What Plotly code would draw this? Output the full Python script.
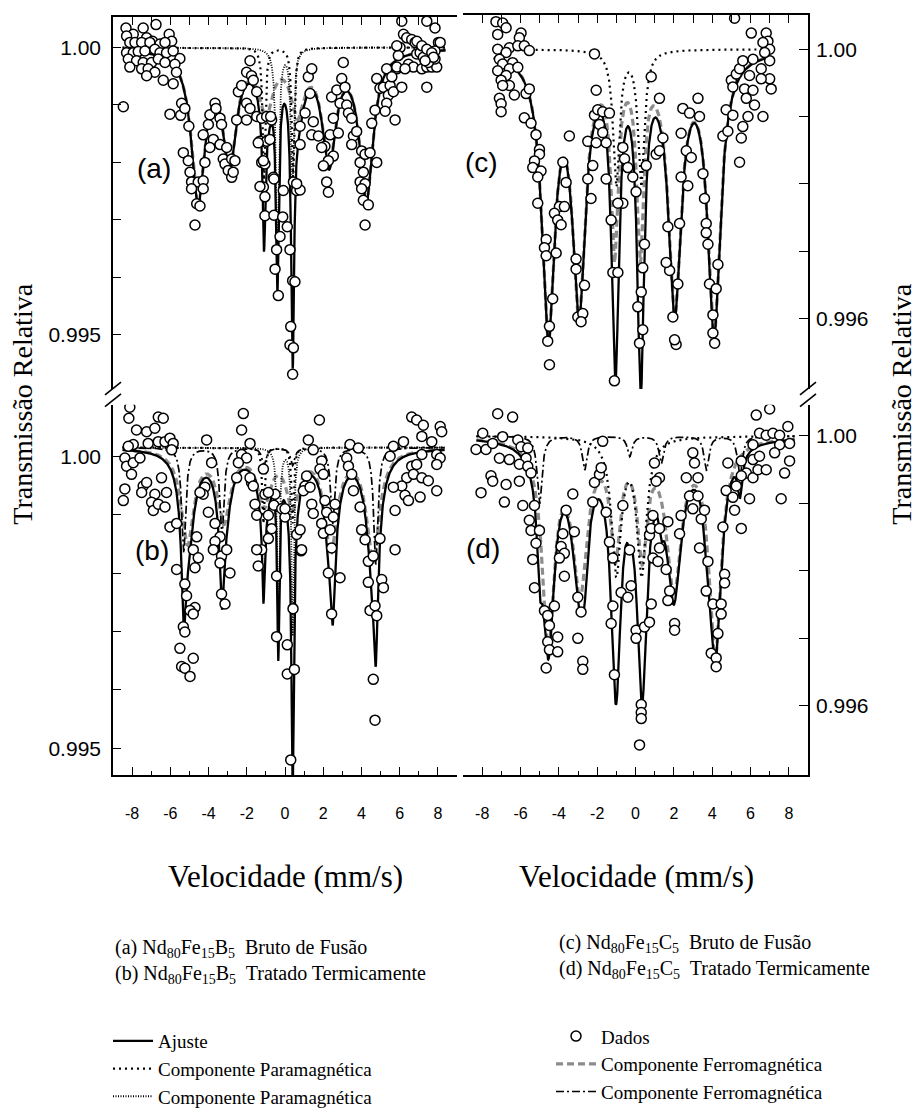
import numpy as np
import plotly.graph_objects as go

W, H = 917, 1116

# ---------------- measured spectra: velocity (mm/s) and relative transmission ----------------
# (a) Nd80Fe15B5, as cast
a_vel = [
    -8.32, -7.42, -6.75, -7.94, -8.29, -7.24, -6.93, -6.54, -6.06, -5.93,
    -8.12, -7.85, -7.50, -7.07, -6.28, -8.29, -7.94, -7.68, -7.33, -6.81,
    -6.54, -6.20, -5.85, -5.50, -8.20, -7.77, -7.42, -6.98, -6.63, -6.28,
    -5.76, -8.12, -7.50, -7.16, -6.81, -6.37, -5.68, -7.24, -5.85, -8.46,
    -5.41, -6.02, -5.46, -5.24, -5.03, -5.32, -5.06, -4.97, -4.89, -4.54,
    -4.28, -4.28, -4.19, -4.62, -4.45, -4.71, -4.89, -4.28, -4.01, -3.93,
    -3.66, -3.61, -3.40, -3.32, -3.75, -3.93, -3.40, -3.05, -3.23, -3.14,
    -2.79, -2.62, -2.97, -2.79, -2.71, -2.53, -2.44, -2.27, -2.01, -1.83,
    -1.75, -1.66, -1.48, -2.01, -1.83, -2.01, -1.48, -1.22, -0.96, -0.70,
    -1.31, -0.96, -0.79, -1.22, -1.05, -0.61, -1.13, -0.75, -1.40, -1.13,
    -0.58, -1.31, -1.05, -1.05, -0.58, -0.09, 0.44, 0.61, -0.12, 0.12,
    -0.26, -0.44, 0.26, -0.52, -0.35, 0.40, 0.30, 0.26, 0.44, 0.40,
    0.79, 0.52, 1.31, 1.22, 1.40, 1.05, 1.48, 1.40, 1.75, 2.09,
    1.92, 2.36, 2.53, 2.27, 2.01, 2.18, 2.27, 2.79, 2.53, 2.44,
    2.71, 2.97, 3.05, 3.14, 2.88, 3.23, 3.32, 3.49, 3.58, 3.49,
    3.75, 4.01, 3.93, 4.19, 4.45, 4.80, 4.10, 3.93, 4.19, 4.01,
    4.10, 4.36, 4.19, 4.54, 4.71, 4.80, 4.97, 5.15, 5.32, 5.50,
    5.41, 5.67, 5.32, 5.24, 5.76, 5.85, 6.11, 6.20, 6.37, 6.63,
    6.81, 6.02, 6.46, 5.93, 6.89, 6.72, 7.07, 7.16, 7.42, 7.68,
    7.94, 7.68, 7.85, 8.03, 7.42, 6.11, 7.42, 7.85, 7.85, 7.24,
    7.50, 0.79, 0.79, 0.61, 6.90, 5.85, 7.16, 7.42, 7.68, 8.12,
    7.77, 7.33, 5.85, 6.28, 5.59,
]
a_trans = [
    1.00034, 1.00034, 1.00040, 1.00023, 1.00020, 1.00017, 1.00011, 1.00006, 1.00023, 1.00011,
    1.00009, 1.00009, 1.00009, 1.00009, 1.00009, 0.99991, 0.99991, 0.99993, 0.99994, 0.99997,
    0.99991, 0.99991, 0.99994, 0.99981, 0.99980, 0.99977, 0.99974, 0.99974, 0.99980, 0.99974,
    0.99971, 0.99966, 0.99963, 0.99963, 0.99957, 0.99943, 0.99957, 0.99951, 0.99937, 0.99897,
    0.99903, 0.99884, 0.99882, 0.99894, 0.99863, 0.99817, 0.99803, 0.99783, 0.99766, 0.99766,
    0.99768, 0.99754, 0.99800, 0.99728, 0.99724, 0.99691, 0.99754, 0.99848, 0.99866, 0.99883,
    0.99903, 0.99894, 0.99877, 0.99866, 0.99840, 0.99826, 0.99831, 0.99826, 0.99806, 0.99797,
    0.99806, 0.99803, 0.99786, 0.99774, 0.99783, 0.99874, 0.99923, 0.99934, 0.99957, 0.99977,
    0.99951, 0.99943, 0.99923, 0.99903, 0.99894, 0.99874, 0.99880, 0.99877, 0.99880, 0.99874,
    0.99837, 0.99837, 0.99840, 0.99800, 0.99797, 0.99774, 0.99757, 0.99880, 0.99834, 0.99803,
    0.99771, 0.99758, 0.99740, 0.99707, 0.99708, 0.99751, 0.99766, 0.99751, 0.99705, 0.99688,
    0.99671, 0.99648, 0.99648, 0.99614, 0.99568, 0.99594, 0.99514, 0.99482, 0.99477, 0.99431,
    0.99752, 0.99592, 0.99920, 0.99949, 0.99963, 0.99886, 0.99871, 0.99848, 0.99846, 0.99828,
    0.99826, 0.99848, 0.99811, 0.99803, 0.99794, 0.99766, 0.99748, 0.99851, 0.99877, 0.99914,
    0.99926, 0.99946, 0.99974, 0.99931, 0.99903, 0.99900, 0.99886, 0.99877, 0.99846, 0.99831,
    0.99854, 0.99820, 0.99800, 0.99814, 0.99817, 0.99800, 0.99783, 0.99766, 0.99763, 0.99754,
    0.99734, 0.99726, 0.99691, 0.99868, 0.99891, 0.99946, 0.99929, 0.99931, 0.99963, 0.99934,
    0.99917, 0.99923, 0.99903, 0.99889, 0.99874, 0.99963, 0.99931, 1.00023, 1.00017, 1.00014,
    1.00009, 1.00000, 0.99971, 0.99986, 0.99989, 0.99966, 0.99991, 0.99963, 0.99966, 0.99966,
    0.99966, 0.99983, 0.99980, 1.00009, 0.99931, 1.00046, 1.00046, 1.00034, 0.99994, 0.99983,
    0.99974, 0.99863, 0.99831, 0.99763, 1.00011, 1.00003, 1.00003, 0.99997, 0.99991, 1.00009,
    0.99983, 0.99977, 0.99966, 0.99963, 0.99949,
]

# (b) Nd80Fe15B5, heat treated
b_vel = [
    -8.12, -8.17, -7.77, -7.24, -6.81, -6.63, -6.37, -7.94, -8.20, -7.16,
    -6.63, -6.28, -6.02, -5.85, -5.93, -8.38, -8.29, -7.94, -8.03, -7.59,
    -8.38, -8.46, -7.42, -7.24, -7.50, -6.81, -6.98, -6.89, -6.63, -6.46,
    -6.20, -6.28, -6.02, -5.67, -4.10, -2.18, -2.27, -1.83, -2.27, -2.01,
    -3.84, -4.19, -4.28, -4.01, -3.66, -3.40, -3.66, -3.75, -3.32, -3.05,
    -3.40, -2.88, -3.32, -3.14, -4.45, -4.62, -4.80, -4.54, -4.71, -5.67,
    -5.24, -5.15, -4.71, -4.97, -4.80, -5.32, -5.24, -5.50, -4.80, -5.41,
    -5.24, -4.97, -2.53, -1.75, -1.48, -0.87, -0.52, -0.70, -1.40, -0.44,
    -0.44, 0.12, 0.12, 0.30, -1.83, -1.57, -1.05, -1.22, -0.87, -1.66,
    -2.44, -0.87, -1.13, -1.48, -0.58, -0.17, 0.00, 0.61, 0.84, 0.49,
    0.42, 1.80, 1.22, 1.48, 1.92, 1.83, 2.01, 1.13, 1.05, 1.40,
    1.48, 0.96, 1.31, 2.09, 2.18, 1.92, 2.01, 2.36, 2.53, 2.62,
    2.44, 2.27, 2.88, 2.44, 3.40, 3.84, 3.23, 3.32, 3.49, 3.58,
    3.93, 4.01, 4.19, 4.36, 4.62, 4.97, 4.36, 5.06, 5.15, 4.45,
    4.71, 4.80, 4.62, 4.71, 5.50, 5.67, 6.20, 6.63, 6.89, 7.24,
    8.12, 8.20, 7.16, 7.68, 7.94, 8.12, 7.16, 6.63, 6.89, 7.94,
    6.37, 6.72, 7.16, 7.50, 7.94, 6.11, 5.67, 5.76, 6.28, 7.07,
    6.46, 5.76, 0.79, 0.87, 0.00,
]
b_trans = [
    1.00084, 1.00065, 1.00045, 1.00042, 1.00048, 1.00067, 1.00065, 1.00020, 1.00017, 1.00022,
    1.00025, 1.00025, 1.00031, 1.00022, 1.00011, 0.99997, 0.99983, 0.99989, 0.99969, 0.99997,
    0.99944, 0.99924, 0.99949, 0.99955, 0.99938, 0.99935, 0.99921, 0.99907, 0.99918, 0.99963,
    0.99938, 0.99913, 0.99879, 0.99885, 1.00028, 1.00073, 1.00045, 1.00022, 1.00003, 0.99997,
    0.99989, 0.99947, 0.99935, 0.99904, 0.99885, 0.99862, 0.99854, 0.99840, 0.99829, 0.99840,
    0.99817, 0.99800, 0.99764, 0.99747, 0.99938, 0.99862, 0.99840, 0.99826, 0.99809, 0.99806,
    0.99781, 0.99761, 0.99741, 0.99736, 0.99730, 0.99708, 0.99699, 0.99671, 0.99654, 0.99640,
    0.99637, 0.99623, 0.99963, 0.99955, 0.99899, 0.99899, 0.99935, 0.99876, 0.99812, 0.99795,
    0.99691, 0.99677, 0.99627, 0.99480, 0.99963, 0.99918, 0.99935, 0.99840, 0.99859, 0.99949,
    0.99989, 0.99938, 0.99978, 0.99840, 0.99916, 0.99910, 0.99896, 0.99866, 0.99838, 0.99635,
    0.99739, 1.00062, 1.00028, 1.00011, 0.99992, 0.99978, 0.99969, 0.99966, 0.99949, 0.99918,
    0.99902, 0.99941, 0.99947, 0.99924, 0.99904, 0.99885, 0.99868, 0.99874, 0.99896, 0.99918,
    0.99843, 0.99800, 0.99792, 0.99730, 1.00020, 1.00014, 0.99997, 0.99983, 0.99969, 0.99941,
    0.99913, 0.99874, 0.99857, 0.99820, 0.99829, 0.99859, 0.99784, 0.99789, 0.99775, 0.99736,
    0.99744, 0.99727, 0.99618, 0.99548, 1.00000, 1.00017, 1.00025, 1.00067, 1.00062, 1.00053,
    1.00051, 1.00042, 1.00034, 1.00025, 1.00003, 0.99997, 1.00003, 0.99983, 0.99986, 0.99986,
    0.99963, 0.99969, 0.99963, 0.99958, 0.99941, 0.99949, 0.99947, 0.99907, 0.99933, 0.99930,
    0.99924, 0.99840, 0.99874, 0.99840, 0.99910,
]

# (c) Nd80Fe15C5, as cast
c_vel = [
    -7.28, -6.93, -6.75, -7.19, -5.97, -6.06, -7.19, -6.58, -6.14, -5.80,
    -5.54, -6.75, -7.10, -6.93, -6.41, -6.58, -6.14, -7.19, -6.75, -7.01,
    -6.58, -6.93, -5.71, -6.32, -5.54, -7.10, -7.01, -7.01, -5.80, -5.45,
    -5.19, -5.01, -5.01, -5.27, -5.36, -4.93, -5.10, -5.10, -3.45, -3.79,
    -3.62, -3.97, -4.23, -3.71, -4.06, -3.88, -4.66, -4.75, -4.66, -4.14,
    -4.32, -4.49, -4.58, -4.49, -3.10, -3.10, -2.66, -3.01, -2.75, -2.84,
    -2.49, -2.49, -2.32, -2.23, -2.14, -1.97, -1.71, -1.36, -1.88, -1.71,
    -1.53, -2.05, -1.53, -1.27, -1.18, -0.92, -1.10, -0.66, -0.57, -0.40,
    -0.14, -0.66, -0.92, 0.03, -2.05, -2.14,
    0.82, 1.25, 0.56, 1.08, 0.47, 0.12, 0.30, 0.38, 0.21, 1.43,
    1.25, 1.69, 1.78, 2.21, 1.95, 2.12, 2.04, 2.30, 2.38, 2.47,
    2.82, 3.26, 3.34, 2.65, 2.91, 3.52, 2.38, 2.73, 3.60, 3.69,
    3.69, 3.78, 3.86, 4.04, 4.04, 4.13, 4.21, 4.30, 4.56, 4.73,
    4.82, 5.08, 5.60, 5.52, 5.43, 5.00, 5.26, 5.08, 5.43, 5.69,
    5.78, 6.13, 6.21, 5.87, 6.65, 5.17, 6.04, 6.82, 6.91, 7.00,
    7.00, 6.56, 7.08, 7.00, 6.56, 6.13, 5.95, 5.60, 6.65, 6.74,
    0.38, 1.60,
]
c_trans = [
    1.00041, 1.00039, 1.00032, 1.00022, 1.00024, 1.00017, 1.00000, 1.00002, 1.00005, 1.00005,
    0.99998, 0.99995, 0.99985, 0.99978, 0.99980, 0.99971, 0.99973, 0.99968, 0.99961, 0.99954,
    0.99946, 0.99946, 0.99934, 0.99932, 0.99941, 0.99927, 0.99919, 0.99907, 0.99898, 0.99890,
    0.99873, 0.99851, 0.99844, 0.99834, 0.99824, 0.99819, 0.99810, 0.99771, 0.99871, 0.99832,
    0.99802, 0.99766, 0.99756, 0.99766, 0.99746, 0.99739, 0.99717, 0.99705, 0.99693, 0.99697,
    0.99629, 0.99588, 0.99566, 0.99531, 0.99688, 0.99673, 0.99649, 0.99602, 0.99607, 0.99595,
    0.99807, 0.99863, 0.99778, 0.99827, 0.99902, 0.99910, 0.99907, 0.99905, 0.99888, 0.99876,
    0.99861, 0.99861, 0.99807, 0.99746, 0.99668, 0.99668, 0.99507, 0.99854, 0.99837, 0.99824,
    0.99810, 0.99771, 0.99771, 0.99788, 0.99939, 0.99993,
    0.99959, 0.99927, 0.99827, 0.99844, 0.99710, 0.99617, 0.99639, 0.99583, 0.99563, 0.99868,
    0.99849, 0.99736, 0.99671, 0.99651, 0.99602, 0.99561, 0.99568, 0.99741, 0.99875, 0.99912,
    0.99905, 0.99927, 0.99900, 0.99849, 0.99839, 0.99815, 0.99810, 0.99797, 0.99778, 0.99741,
    0.99727, 0.99710, 0.99651, 0.99605, 0.99578, 0.99563, 0.99644, 0.99680, 0.99871, 0.99910,
    0.99878, 0.99902, 0.99885, 0.99868, 0.99832, 0.99954, 0.99963, 0.99944, 0.99971, 0.99941,
    0.99927, 0.99939, 0.99917, 0.99900, 0.99900, 1.00046, 1.00024, 1.00024, 1.00012, 1.00000,
    0.99983, 0.99971, 0.99941, 0.99956, 0.99956, 0.99985, 0.99961, 0.99983, 1.00010, 0.99995,
    0.99675, 0.99683,
]

# (d) Nd80Fe15C5, heat treated
d_vel = [
    -7.19, -6.41, -6.93, -7.97, -8.32, -7.80, -7.45, -6.14, -5.97, -5.62,
    -5.71, -7.10, -6.58, -6.06, -5.62, -7.54, -7.45, -6.75, -6.06, -8.06,
    -6.84, -5.88, -5.27, -5.54, -5.45, -5.19, -5.27, -4.75, -4.58, -4.23,
    -4.49, -4.06, -4.58, -4.49, -4.06, -4.66, -3.27, -3.62, -3.79, -3.19,
    -3.88, -3.71, -3.97, -3.71, -3.01, -2.84, -3.01, -2.75, -2.75, -2.23,
    -2.14, -1.88, -1.71, -1.79, -1.53, -1.36, -1.18, -1.18, -1.27, -1.10,
    -0.66, -0.31, -0.75, -0.40, -0.23, 0.03, -5.45, -5.01, -5.36,
    0.30, 0.30, 0.30, 0.21, 0.03, 0.47, 0.73, 0.82, 0.99,
    1.25, 1.08, 0.91, 0.73, 0.91, 1.17, 1.25, 0.82, 1.25, 1.60,
    1.69, 1.78, 1.69, 2.04, 2.04, 2.30, 2.38, 2.65, 2.82, 2.99,
    3.08, 3.26, 2.99, 3.43, 3.60, 3.26, 3.34, 3.78, 3.69, 4.04,
    4.47, 4.47, 4.30, 3.95, 4.21, 4.21, 4.65, 4.65, 4.56, 4.73,
    4.82, 5.08, 5.17, 5.52, 5.26, 5.52, 5.78, 5.95, 6.13, 6.13,
    6.39, 6.47, 6.30, 7.00, 6.13, 6.47, 6.82, 7.17, 7.52, 7.95,
    8.04, 8.04, 7.52, 7.26, 6.82, 7.60, 7.78, 5.52,
]
d_trans = [
    1.00033, 1.00028, 0.99999, 1.00004, 0.99980, 0.99980, 0.99989, 0.99994, 0.99984, 0.99982,
    0.99967, 0.99967, 0.99965, 0.99958, 0.99955, 0.99941, 0.99933, 0.99928, 0.99933, 0.99916,
    0.99902, 0.99897, 0.99897, 0.99875, 0.99860, 0.99841, 0.99775, 0.99741, 0.99734, 0.99748,
    0.99719, 0.99702, 0.99695, 0.99683, 0.99680, 0.99656, 0.99914, 0.99890, 0.99855, 0.99858,
    0.99836, 0.99826, 0.99819, 0.99792, 0.99761, 0.99739, 0.99700, 0.99666, 0.99654, 0.99902,
    0.99931, 0.99943, 0.99992, 0.99953, 0.99887, 0.99843, 0.99819, 0.99748, 0.99722, 0.99646,
    0.99897, 0.99831, 0.99768, 0.99761, 0.99778, 0.99712, 0.99945, 0.99860, 0.99817,
    0.99602, 0.99590, 0.99581, 0.99542, 0.99700, 0.99717, 0.99724, 0.99751, 0.99960,
    0.99938, 0.99933, 0.99882, 0.99853, 0.99819, 0.99814, 0.99834, 0.99863, 0.99863, 0.99802,
    0.99873, 0.99770, 0.99756, 0.99722, 0.99712, 0.99855, 0.99882, 0.99938, 0.99911, 0.99975,
    0.99960, 0.99938, 0.99892, 0.99877, 0.99890, 0.99911, 0.99834, 0.99814, 0.99770, 0.99751,
    0.99751, 0.99736, 0.99707, 0.99678, 0.99671, 0.99658, 0.99795, 0.99782, 0.99865, 0.99919,
    0.99960, 0.99909, 0.99890, 0.99863, 0.99926, 0.99963, 0.99945, 0.99907, 0.99938, 0.99965,
    0.99950, 0.99970, 1.00031, 1.00040, 0.99987, 1.00004, 1.00001, 1.00004, 1.00001, 1.00014,
    0.99989, 0.99963, 0.99987, 0.99975, 0.99950, 0.99907, 0.99945, 0.99941,
]

# ---------------- fitted sub-spectra: Lorentzian lines (position, depth, half width) ----------------
# (a)
a_base = 1.0
a_span = [-8.5, 8.4]
a_ferro_pos = [-4.55, -2.90, -1.00, 0.65, 2.30, 4.25]
a_ferro_depth = [0.0026, 0.0019, 0.0010, 0.0010, 0.0019, 0.0026]
a_ferro_hw = [0.42, 0.42, 0.42, 0.42, 0.42, 0.42]
a_para1_pos = [-1.10, 0.42]
a_para1_depth = [0.0023, 0.0023]
a_para1_hw = [0.08, 0.08]
a_para2_pos = [-0.40, 0.38]
a_para2_depth = [0.0036, 0.0025]
a_para2_hw = [0.09, 0.09]

# (b)
b_base = 1.00015
b_span = [-8.5, 8.35]
b_ferro_pos = [-5.10, -3.20, -1.10, 0.40, 2.40, 4.60]
b_ferro_depth = [0.0016, 0.0012, 0.0009, 0.0009, 0.0017, 0.0019]
b_ferro_hw = [0.40, 0.40, 0.40, 0.40, 0.40, 0.40]
b_ferro2_pos = [-5.30, -3.30, -1.10, 0.40, 2.50, 4.75]
b_ferro2_depth = [0.0018, 0.0015, 0.0003, 0.0003, 0.0013, 0.0020]
b_ferro2_hw = [0.13, 0.13, 0.13, 0.13, 0.13, 0.13]
b_para1_pos = [-1.13, 0.40]
b_para1_depth = [0.0013, 0.0013]
b_para1_hw = [0.07, 0.07]
b_para2_pos = [-0.35, 0.40]
b_para2_depth = [0.0031, 0.0032]
b_para2_hw = [0.07, 0.07]

# (c)
c_base = 1.0
c_span = [-7.4, 7.1]
c_ferro_pos = [-4.55, -2.95, -1.10, 0.25, 2.05, 4.10]
c_ferro_depth = [0.0041, 0.0037, 0.0028, 0.0028, 0.0037, 0.0041]
c_ferro_hw = [0.40, 0.40, 0.22, 0.22, 0.40, 0.40]
c_para_pos = [-1.00, 0.30]
c_para_depth = [0.0020, 0.0020]
c_para_hw = [0.20, 0.20]

# (d)
d_base = 1.0
d_span = [-8.3, 8.3]
d_ferro_pos = [-4.55, -2.90, -1.05, 0.35, 2.00, 4.15]
d_ferro_depth = [0.0030, 0.0022, 0.0016, 0.0016, 0.0022, 0.0032]
d_ferro_hw = [0.38, 0.45, 0.30, 0.30, 0.45, 0.38]
d_ferro2_pos = [-5.00, -2.65, -0.30, 1.35, 3.70, 5.45]
d_ferro2_depth = [0.0010, 0.0005, 0.0003, 0.0004, 0.0005, 0.0006]
d_ferro2_hw = [0.15, 0.15, 0.15, 0.15, 0.15, 0.15]
d_para_pos = [-1.00, 0.32]
d_para_depth = [0.0020, 0.0020]
d_para_hw = [0.30, 0.30]

# ---------------- axis ticks ----------------
vel_major = [-8, -6, -4, -2, 0, 2, 4, 6, 8]
vel_minor = [-7, -5, -3, -1, 1, 3, 5, 7]
vel_all = list(range(-8, 9))
ab_major = [0.995, 1.000]
ab_labels = ["0.995", "1.00"]
ab_minor = [0.996, 0.997, 0.998, 0.999]
cd_major = [0.996, 1.000]
cd_labels = ["0.996", "1.00"]
cd_minor = [0.997, 0.998, 0.999]

# ---------------- styles ----------------
SERIF = "Liberation Serif"
SANS = "Liberation Sans"
FIT = dict(color="black", width=2.3)
PARA_SPARSE = dict(color="black", width=2.2, dash="2px,4px")
PARA_DENSE = dict(color="black", width=1.8, dash="1px,1.5px")
FERRO_GRAY = dict(color="#8c8c8c", width=3.2, dash="7px,4px")
FERRO_DASHDOT = dict(color="black", width=1.7, dash="8px,3px,2px,3px")


def absorption(v, pos, depth, hw):
    total = np.zeros_like(v)
    for p, d, w in zip(pos, depth, hw):
        total += d / (1.0 + ((v - p) / w) ** 2)
    return total


fig = go.Figure()

panels = [
    dict(xa="x2", ya="y", base=a_base, span=a_span, vel=a_vel, trans=a_trans,
         comps=[(a_ferro_pos, a_ferro_depth, a_ferro_hw, FERRO_GRAY, "ferro"),
                (a_para1_pos, a_para1_depth, a_para1_hw, PARA_SPARSE, "para1"),
                (a_para2_pos, a_para2_depth, a_para2_hw, PARA_DENSE, "para2")]),
    dict(xa="x", ya="y2", base=b_base, span=b_span, vel=b_vel, trans=b_trans,
         comps=[(b_ferro_pos, b_ferro_depth, b_ferro_hw, FERRO_GRAY, "ferro"),
                (b_ferro2_pos, b_ferro2_depth, b_ferro2_hw, FERRO_DASHDOT, "ferro2"),
                (b_para1_pos, b_para1_depth, b_para1_hw, PARA_SPARSE, "para1"),
                (b_para2_pos, b_para2_depth, b_para2_hw, PARA_DENSE, "para2")]),
    dict(xa="x4", ya="y3", base=c_base, span=c_span, vel=c_vel, trans=c_trans,
         comps=[(c_ferro_pos, c_ferro_depth, c_ferro_hw, FERRO_GRAY, "ferro"),
                (c_para_pos, c_para_depth, c_para_hw, PARA_SPARSE, "para1")]),
    dict(xa="x3", ya="y4", base=d_base, span=d_span, vel=d_vel, trans=d_trans,
         comps=[(d_ferro_pos, d_ferro_depth, d_ferro_hw, FERRO_GRAY, "ferro"),
                (d_ferro2_pos, d_ferro2_depth, d_ferro2_hw, FERRO_DASHDOT, "ferro2"),
                (d_para_pos, d_para_depth, d_para_hw, PARA_SPARSE, "para1")]),
]

legend_slot = {
    "ferro": ("legend2", "Componente Ferromagnética", 2),
    "ferro2": ("legend2", "Componente Ferromagnética", 3),
    "para1": ("legend", "Componente Paramagnética", 2),
    "para2": ("legend", "Componente Paramagnética", 3),
}
shown = set()

for pnl in panels:
    v = np.linspace(pnl["span"][0], pnl["span"][1], 2600)
    total = np.zeros_like(v)
    for pos, depth, hw, style, key in pnl["comps"]:
        comp = absorption(v, pos, depth, hw)
        total += comp
        leg, name, rank = legend_slot[key]
        fig.add_trace(go.Scatter(
            x=v, y=pnl["base"] - comp, mode="lines", line=style,
            xaxis=pnl["xa"], yaxis=pnl["ya"], name=name, legend=leg,
            legendgroup=key, legendrank=rank, showlegend=key not in shown,
            hoverinfo="skip"))
        shown.add(key)
    fig.add_trace(go.Scatter(
        x=v, y=pnl["base"] - total, mode="lines", line=FIT,
        xaxis=pnl["xa"], yaxis=pnl["ya"], name="Ajuste", legend="legend",
        legendgroup="fit", legendrank=1, showlegend="fit" not in shown,
        hoverinfo="skip"))
    shown.add("fit")
    fig.add_trace(go.Scatter(
        x=pnl["vel"], y=pnl["trans"], mode="markers",
        marker=dict(symbol="circle", size=10, color="white",
                    line=dict(color="black", width=1.5)),
        xaxis=pnl["xa"], yaxis=pnl["ya"], name="Dados", legend="legend2",
        legendgroup="data", legendrank=1, showlegend="data" not in shown))
    shown.add("data")

# ---------------- axes ----------------
LEFT_DOM = [113 / W, 457 / W]
RIGHT_DOM = [463 / W, 808 / W]
TOP_A = [1 - 395 / H, 1 - 17 / H]
TOP_C = [1 - 395 / H, 1 - 15 / H]
BOTTOM = [1 - 787 / H, 1 - 411 / H]

axis_line = dict(showline=True, linecolor="black", linewidth=1.6, showgrid=False,
                 zeroline=False, ticks="inside", tickcolor="black", tickwidth=1.4)

bottom_x = dict(axis_line, range=[-9, 9], tickmode="array", tickvals=vel_major,
                ticktext=[str(t) for t in vel_major], ticklen=8,
                tickfont=dict(family=SANS, size=16, color="black"),
                ticklabelstandoff=23,
                minor=dict(tickmode="array", tickvals=vel_minor, ticks="inside",
                           ticklen=4, tickwidth=1.4, tickcolor="black"))
top_x = dict(axis_line, range=[-9, 9], tickmode="array", tickvals=vel_all, ticklen=8,
             showticklabels=False, side="top")
ytick_font = dict(family=SANS, size=21, color="black")


def y_ticks(major, labels, minor, ln, standoff):
    return dict(tickmode="array", tickvals=major, ticktext=labels, ticklen=ln,
                tickfont=ytick_font, ticklabelstandoff=standoff,
                minor=dict(tickmode="array", tickvals=minor, ticks="inside",
                           ticklen=ln, tickwidth=1.4, tickcolor="black"))


fig.update_layout(
    xaxis=dict(bottom_x, domain=LEFT_DOM, anchor="y2"),
    xaxis2=dict(top_x, domain=LEFT_DOM, anchor="y"),
    xaxis3=dict(bottom_x, domain=RIGHT_DOM, anchor="y4"),
    xaxis4=dict(top_x, domain=RIGHT_DOM, anchor="y3"),
    yaxis=dict(axis_line, domain=TOP_A, anchor="x", range=[0.994053, 1.000537],
               **y_ticks(ab_major, ab_labels, ab_minor, 8, 6)),
    yaxis2=dict(axis_line, domain=BOTTOM, anchor="x", range=[0.994541, 1.000882],
                **y_ticks(ab_major, ab_labels, ab_minor, 8, 6)),
    yaxis3=dict(axis_line, domain=TOP_C, anchor="x3", side="right",
                range=[0.994949, 1.000512], **y_ticks(cd_major, cd_labels, cd_minor, 9, 2)),
    yaxis4=dict(axis_line, domain=BOTTOM, anchor="x3", side="right",
                range=[0.994974, 1.000463], **y_ticks(cd_major, cd_labels, cd_minor, 9, 2)),
)

# ---------------- text ----------------
def px(x, y):
    return x / W, 1 - y / H


annotations = []


def note(x, y, text, size, family=SERIF, angle=0, xanchor="center"):
    xp, yp = px(x, y)
    annotations.append(dict(x=xp, y=yp, xref="paper", yref="paper", text=text,
                            showarrow=False, textangle=angle, xanchor=xanchor,
                            yanchor="middle", font=dict(family=family, size=size,
                                                        color="black")))


note(23, 411, "Transmissão Relativa", 28, angle=-90)
note(902, 411, "Transmissão Relativa", 28, angle=-90)
note(285, 890, "Velocidade (mm/s)", 31)
note(636, 890, "Velocidade (mm/s)", 31)
note(154, 171, "(a)", 28, family=SANS)
note(152, 559, "(b)", 28, family=SANS)
note(481, 165, "(c)", 28, family=SANS)
note(483, 557, "(d)", 28, family=SANS)
note(113, 963, "(a) Nd<sub>80</sub>Fe<sub>15</sub>B<sub>5</sub>  Bruto de Fusão", 20,
     xanchor="left")
note(113, 990, "(b) Nd<sub>80</sub>Fe<sub>15</sub>B<sub>5</sub>  Tratado Termicamente", 20,
     xanchor="left")
note(557, 958, "(c) Nd<sub>80</sub>Fe<sub>15</sub>C<sub>5</sub>  Bruto de Fusão", 20,
     xanchor="left")
note(557, 985, "(d) Nd<sub>80</sub>Fe<sub>15</sub>C<sub>5</sub>  Tratado Termicamente", 20,
     xanchor="left")

# axis breaks between the upper and lower spectra
shapes = []
for x0 in (113, 808):
    for y0 in (401, 413):
        xa, ya = px(x0 - 8, y0)
        xb, yb = px(x0 + 8, y0 - 13)
        shapes.append(dict(type="line", xref="paper", yref="paper", x0=xa, y0=ya,
                           x1=xb, y1=yb, line=dict(color="black", width=1.6)))

legend_common = dict(font=dict(family=SERIF, size=19, color="black"),
                     bgcolor="rgba(0,0,0,0)", borderwidth=0, tracegroupgap=0,
                     itemwidth=40, xanchor="left", yanchor="top", orientation="v")

fig.update_layout(
    width=W, height=H, autosize=False,
    margin=dict(l=0, r=0, t=0, b=0),
    paper_bgcolor="white", plot_bgcolor="white",
    annotations=annotations, shapes=shapes,
    legend=dict(legend_common, x=108 / W, y=1 - 1038 / H),
    legend2=dict(legend_common, x=551 / W, y=1 - 1033 / H),
)

fig.write_html("out.html", config={"responsive": False})
